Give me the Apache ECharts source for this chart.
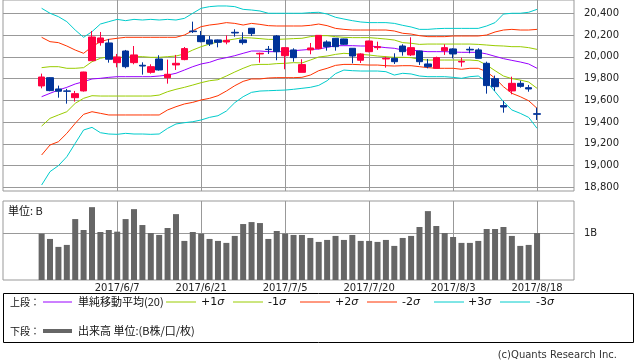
<!DOCTYPE html>
<html><head><meta charset="utf-8">
<script src="https://cdn.jsdelivr.net/npm/echarts@6/dist/echarts.min.js"></script>
<style>html,body{margin:0;padding:0;background:#fff}#c{width:638px;height:362px}</style>
</head><body><div id="c"></div>
<script>
const year = 2017;
const dates = ['5/25','5/26','5/29','5/30','5/31','6/1','6/2','6/5','6/6','6/7','6/8','6/9','6/12','6/13','6/14','6/15','6/16','6/19','6/20','6/21','6/22','6/23','6/26','6/27','6/28','6/29','6/30','7/3','7/4','7/5','7/6','7/7','7/10','7/11','7/12','7/13','7/14','7/18','7/19','7/20','7/21','7/24','7/25','7/26','7/27','7/28','7/31','8/1','8/2','8/3','8/4','8/7','8/8','8/9','8/10','8/14','8/15','8/16','8/17','8/18'];
const open  = [19732,19808,19704,19686,19624,19686,19964,20130,20127,19946,20053,19946,19922,19857,19980,19808,19925,19974,20237,20194,20155,20155,20136,20225,20155,20262,20026,20069,20191,20010,20063,19857,20063,20075,20136,20170,20164,20078,19968,20047,20084,19980,19986,20099,20017,20053,19934,19894,20056,20072,19952,20069,20063,19940,19799,19551,19686,19756,19716,19477];
const close = [19814,19689,19683,19683,19661,19860,20182,20173,19977,19998,19909,20017,19915,19909,19879,19839,19940,20075,20231,20139,20118,20133,20151,20219,20130,20213,20032,20066,20047,20084,19992,19928,20081,20197,20093,20093,20115,20007,20026,20145,20093,19986,19955,20047,20084,19955,19909,19992,20084,20026,19958,20063,19986,19735,19725,19538,19756,19728,19704,19471];
const low   = [19710,19683,19624,19569,19588,19680,19964,20102,19946,19903,19894,19931,19836,19845,19873,19753,19879,19968,20219,20133,20099,20087,20115,20185,20112,20191,19946,20026,19968,19885,19955,19857,20023,20069,20056,20056,20109,19940,19943,20041,20063,19900,19934,20010,20007,19925,19894,19892,20017,19986,19909,20032,19984,19661,19686,19486,19655,19716,19679,19419];
const high  = [19845,19812,19735,19705,19686,19862,20237,20228,20164,20026,20063,20099,19949,19931,20014,19974,20017,20090,20323,20237,20191,20158,20197,20253,20225,20265,20038,20099,20200,20086,20078,19977,20127,20199,20151,20172,20166,20080,20032,20148,20139,20001,20032,20115,20179,20056,19980,20001,20115,20078,19992,20093,20078,19955,19827,19594,19817,19781,19741,19532];
const volume = [0.986,0.873,0.704,0.746,1.296,1.063,1.549,1.021,1.063,1.028,1.296,1.507,1.169,1.0,0.958,1.106,1.401,0.831,1.021,0.986,0.873,0.831,0.789,0.937,1.19,1.232,1.211,0.873,1.042,0.986,0.958,0.958,0.894,0.81,0.852,0.937,0.852,0.958,0.831,0.831,0.81,0.852,0.725,0.894,0.937,1.127,1.465,1.148,1.0,0.915,0.789,0.789,0.831,1.085,1.085,1.127,0.937,0.725,0.746,1.0];
const sma20 = [19633,19664,19694,19719,19750,19771,19796,19802,19811,19817,19817,19817,19817,19817,19823,19832,19848,19878,19909,19934,19949,19976,19992,20010,20032,20053,20053,20047,20047,20047,20056,20062,20068,20071,20087,20102,20102,20102,20099,20099,20093,20084,20078,20062,20062,20053,20047,20047,20047,20044,20041,20041,20041,20026,20004,19983,19967,19952,19934,19894];
const plus1 = [19900,19909,19909,19894,19894,19900,19955,19986,20001,19995,19995,20001,20001,19995,19995,20001,20007,20026,20062,20093,20117,20136,20151,20163,20176,20173,20167,20160,20160,20163,20167,20170,20185,20194,20194,20185,20179,20176,20176,20176,20170,20163,20154,20130,20124,20114,20117,20117,20117,20117,20117,20117,20114,20108,20102,20099,20093,20093,20084,20068];
const minus1 = [19363,19434,19465,19495,19572,19618,19642,19639,19639,19639,19639,19639,19639,19639,19648,19679,19701,19719,19740,19762,19780,19789,19823,19860,19894,19924,19930,19930,19937,19940,19946,19943,19970,19998,20007,20022,20032,20026,20022,20016,20007,20001,19995,19995,19992,19976,19970,19970,19970,19970,19970,19970,19964,19924,19872,19823,19799,19786,19768,19710];
const plus2 = [20179,20139,20130,20099,20062,20032,20093,20139,20160,20170,20179,20179,20179,20179,20179,20179,20179,20200,20240,20277,20292,20301,20314,20307,20292,20307,20298,20286,20283,20283,20283,20283,20289,20301,20286,20261,20252,20246,20246,20246,20246,20246,20237,20216,20209,20194,20185,20185,20185,20191,20191,20191,20191,20200,20228,20246,20252,20246,20246,20252];
const minus2 = [19097,19189,19219,19296,19388,19471,19495,19480,19465,19465,19465,19465,19465,19465,19465,19511,19541,19566,19581,19603,19618,19642,19685,19734,19774,19796,19796,19805,19808,19808,19808,19811,19832,19872,19894,19921,19930,19930,19927,19924,19924,19918,19915,19918,19918,19909,19900,19894,19894,19894,19885,19894,19894,19863,19802,19725,19664,19633,19596,19526];
const plus3 = [20446,20400,20369,20323,20246,20179,20231,20301,20323,20344,20332,20344,20338,20344,20338,20344,20338,20353,20400,20446,20461,20467,20467,20461,20436,20430,20421,20400,20400,20400,20400,20400,20406,20409,20393,20363,20347,20332,20320,20314,20314,20314,20307,20289,20274,20252,20252,20258,20261,20261,20261,20261,20261,20283,20314,20393,20400,20400,20409,20436];
const minus3 = [18821,18944,18999,19081,19204,19327,19351,19302,19290,19287,19296,19290,19290,19287,19290,19342,19382,19394,19403,19419,19443,19458,19501,19578,19633,19673,19685,19688,19691,19694,19701,19710,19719,19737,19780,19845,19878,19872,19869,19869,19869,19863,19832,19848,19842,19823,19817,19817,19817,19811,19802,19817,19823,19771,19679,19587,19511,19480,19443,19342];
const priceTicks = [18800,19000,19200,19400,19600,19800,20000,20200,20400];
const volumeTicks = [1];
const dateTickLabels = ['6/7','6/21','7/5','7/20','8/3','8/18'];

const chart = echarts.init(document.getElementById('c'), null, {renderer: 'canvas'});
const dateIdx = dateTickLabels.map(d => dates.indexOf(d));
const pts = arr => arr.map((v, i) => [i, v]);
const candleData = dates.map((d, i) => [i, open[i], close[i], low[i], high[i]]);
const GRID = '#999999';
const lineSeries = (name, arr, color) => ({
  name, type: 'line', xAxisIndex: 0, yAxisIndex: 0, data: pts(arr),
  showSymbol: false, symbol: 'none', silent: true, z: 2,
  lineStyle: {color, width: 1}
});
const xBase = (grid, showLabel) => ({
  type: 'value', gridIndex: grid, min: -4.6, max: 63.4,
  axisLine: {show: false},
  axisTick: {show: false, customValues: dateIdx},
  axisLabel: {show: showLabel, customValues: dateIdx, margin: 3, fontSize: 10, color: '#222', fontFamily: 'DejaVu Sans',
    formatter: v => year + '/' + dates[Math.round(v)]},
  splitLine: {show: true, customValues: dateIdx, lineStyle: {color: GRID, width: 1}}
});
const txt = (text, x, y, size, extra) => Object.assign({
  type: 'text', x, y, silent: true,
  style: Object.assign({text, fill: '#111', font: size + 'px "Noto Sans CJK JP", sans-serif', verticalAlign: 'middle', align: 'left'}, extra || {})
});
const seg = (x1, x2, y, color, w) => ({type: 'line', silent: true, shape: {x1, y1: y, x2, y2: y}, style: {stroke: color, lineWidth: w || 1}});
const sig = (t, x, y) => ({type: 'text', x, y, silent: true, style: {text: t + '{s|σ}', fill: '#111', font: '11px "DejaVu Sans", sans-serif', verticalAlign: 'middle', rich: {s: {fontStyle: 'italic', font: 'italic 11px "DejaVu Sans", sans-serif', fill: '#111'}}}});
const R1 = 302, R2 = 331;
chart.setOption({
  animation: false,
  backgroundColor: '#fff',
  grid: [
    {left: 3, top: 0, width: 571, height: 191, show: true, borderColor: GRID, borderWidth: 1, backgroundColor: 'transparent'},
    {left: 3, top: 201, width: 571, height: 79, show: true, borderColor: GRID, borderWidth: 1, backgroundColor: 'transparent'}
  ],
  xAxis: [xBase(0, false), xBase(1, true)],
  yAxis: [
    {type: 'value', gridIndex: 0, position: 'right', min: 18766, max: 20522,
      axisLine: {show: false},
      axisTick: {show: true, length: 5, customValues: priceTicks, lineStyle: {color: GRID}},
      axisLabel: {customValues: priceTicks, margin: 10, fontSize: 10, color: '#222', fontFamily: 'DejaVu Sans',
        formatter: v => Number(v).toLocaleString('en-US')},
      splitLine: {show: true, customValues: priceTicks, lineStyle: {color: GRID, width: 1}}},
    {type: 'value', gridIndex: 1, position: 'right', min: 0, max: 1.68,
      axisLine: {show: false},
      axisTick: {show: true, length: 5, customValues: volumeTicks, lineStyle: {color: GRID}},
      axisLabel: {customValues: volumeTicks, margin: 10, fontSize: 10, color: '#222', fontFamily: 'DejaVu Sans',
        formatter: v => v + 'B'},
      splitLine: {show: true, customValues: volumeTicks, lineStyle: {color: GRID, width: 1}}}
  ],
  series: [
    lineSeries('+3σ', plus3, '#00CCCC'),
    lineSeries('-3σ', minus3, '#00CCCC'),
    lineSeries('+2σ', plus2, '#FF3300'),
    lineSeries('-2σ', minus2, '#FF3300'),
    lineSeries('+1σ', plus1, '#99CC00'),
    lineSeries('-1σ', minus1, '#99CC00'),
    lineSeries('単純移動平均(20)', sma20, '#9900FF'),
    {name: 'price', type: 'candlestick', xAxisIndex: 0, yAxisIndex: 0, z: 3,
      encode: {x: 0, y: [1, 2, 3, 4]}, data: candleData, barWidth: 7, silent: true,
      itemStyle: {color: '#FF0040', color0: '#003399', borderColor: '#FF0040', borderColor0: '#003399', borderWidth: 1}},
    {name: '出来高', type: 'bar', xAxisIndex: 1, yAxisIndex: 1, data: pts(volume), barWidth: 6, silent: true,
      itemStyle: {color: '#666666'}}
  ],
  graphic: [
    txt('単位: B', 8, 211, 11),
    {type: 'rect', silent: true, shape: {x: 3.5, y: 293.5, width: 630, height: 49}, style: {fill: 'none', stroke: '#000', lineWidth: 1}},
    txt('上段：', 10, R1, 10),
    seg(43, 72, R1, '#9900FF'),
    txt('単純移動平均(20)', 78, R1, 11),
    seg(166, 196, R1, '#99CC00'), sig('+1', 201, R1),
    seg(233, 263, R1, '#99CC00'), sig('-1', 268, R1),
    seg(300, 330, R1, '#FF3300'), sig('+2', 335, R1),
    seg(367, 397, R1, '#FF3300'), sig('-2', 402, R1),
    seg(434, 464, R1, '#00CCCC'), sig('+3', 468, R1),
    seg(500, 530, R1, '#00CCCC'), sig('-3', 536, R1),
    txt('下段：', 10, R2, 10),
    seg(43, 72, R2, '#666666', 4),
    txt('出来高 単位:(B株/口/枚)', 78, R2, 11),
    txt('(c)Quants Research Inc.', 617, 355, 10, {align: 'right', fill: '#333', font: '10px "DejaVu Sans", sans-serif'})
  ]
});
</script></body></html>
